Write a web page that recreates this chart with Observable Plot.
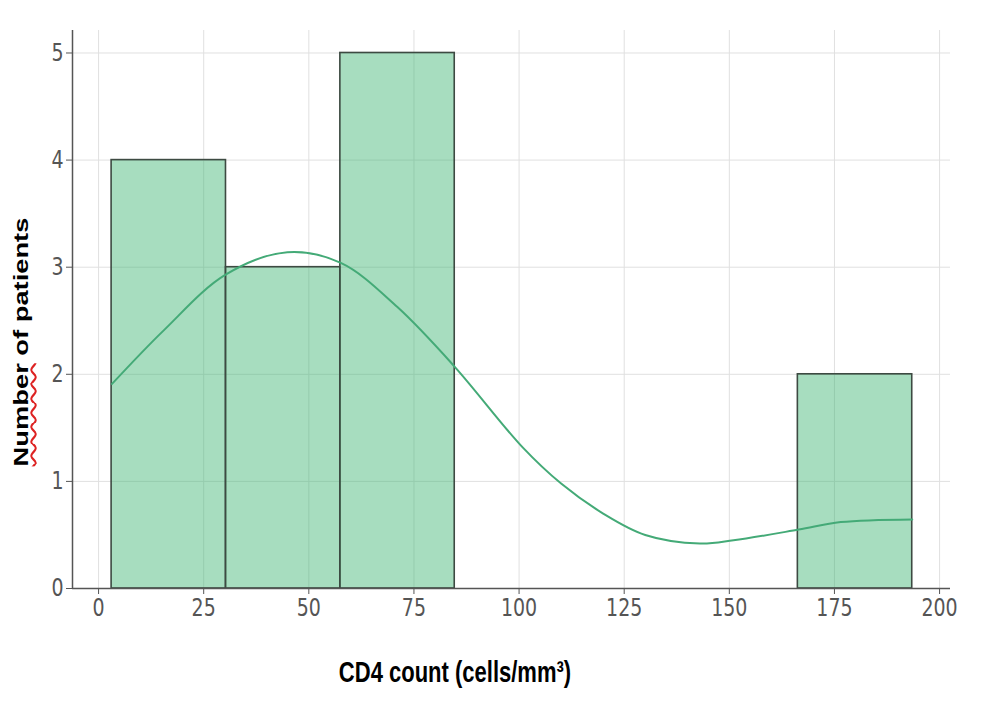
<!DOCTYPE html>
<html>
<head>
<meta charset="utf-8">
<script src="https://cdn.jsdelivr.net/npm/d3@7"></script>
<script src="https://cdn.jsdelivr.net/npm/@observablehq/plot@0.6"></script>
<style>
  html, body { margin: 0; padding: 0; background: white; }
  #wrap { position: relative; width: 1000px; height: 704px; overflow: hidden; background: white; }
  #ylab { position: absolute; left: 21px; top: 342px; white-space: nowrap;
          font: bold 21px "Liberation Sans", Arial, sans-serif; color: #000;
          transform: translate(-50%, -50%) rotate(-90deg) scale(1.3, 1); }
  #ylab .sq { text-decoration: underline wavy #d22; text-decoration-thickness: 1.5px; text-underline-offset: 2px; }
  #xlab { position: absolute; left: 455px; top: 673px; white-space: nowrap;
          font: bold 22px "Liberation Sans", Arial, sans-serif; color: #000;
          transform: translate(-50%, -50%) scale(1, 1.3); }
</style>
</head>
<body>
<div id="wrap">
  <div id="chart"></div>
  <div id="ylab"><span class="sq">Number</span> of patients</div>
  <div id="xlab">CD4 count (cells/mm³)</div>
</div>
<script>
// Histogram bins (CD4 count, cells/mm³) and patient counts
const binStart = [3.1, 30.3, 57.5, 84.7, 111.9, 139.1, 166.3];
const binEnd   = [30.3, 57.5, 84.7, 111.9, 139.1, 166.3, 193.5];
const counts   = [4, 3, 5, 0, 0, 0, 2];

// KDE curve
const kdeX = [3.2, 15.5, 30.2, 44.9, 57.6, 71, 84.7, 100.8, 110, 120, 130, 143, 151, 166.5, 176.5, 193.5];
const kdeY = [1.91, 2.41, 2.93, 3.14, 3.04, 2.63, 2.07, 1.32, 0.98, 0.70, 0.50, 0.42, 0.45, 0.55, 0.62, 0.645];

// Axis ticks and domains
const xTicks = [0, 25, 50, 75, 100, 125, 150, 175, 200];
const yTicks = [0, 1, 2, 3, 4, 5];
const xDomain = [-6.2, 202.6];
const yDomain = [0, 5.21];

const bins = binStart.map((s, i) => ({x1: s, x2: binEnd[i], y: counts[i]})).filter(d => d.y > 0);
const kde = kdeX.map((x, i) => ({x, y: kdeY[i]}));

const chart = Plot.plot({
  width: 1000,
  height: 704,
  marginLeft: 72,
  marginRight: 50,
  marginTop: 30,
  marginBottom: 116,
  style: {fontFamily: "DejaVu Sans, sans-serif", fontSize: "19px", color: "#555", background: "white"},
  x: {domain: xDomain, ticks: xTicks, tickFormat: d => String(d), label: null, tickSize: 6, tickPadding: 4},
  y: {domain: yDomain, ticks: yTicks, tickFormat: d => String(d), label: null, tickSize: 6, tickPadding: 3},
  marks: [
    Plot.ruleX(xTicks, {stroke: "#e0e0e0", strokeWidth: 1}),
    Plot.ruleY(yTicks, {stroke: "#e0e0e0", strokeWidth: 1}),
    Plot.rectY(bins, {x1: "x1", x2: "x2", y: "y", fill: "#3cb371", fillOpacity: 0.45, stroke: "#3d4a42", strokeWidth: 1.6}),
    Plot.line(kde, {x: "x", y: "y", stroke: "#44aa77", strokeWidth: 2, curve: "catmull-rom"}),
    Plot.ruleY([0], {stroke: "#555", strokeWidth: 1.5}),
    Plot.ruleX([xDomain[0]], {stroke: "#555", strokeWidth: 1.5})
  ]
});
document.getElementById("chart").appendChild(chart);

// stretch tick labels vertically like the reference
chart.querySelectorAll('g[aria-label$="tick label"] text, g.tick text').forEach(t => {
  const tr = t.getAttribute("transform") || "";
  t.setAttribute("transform", tr + " scale(1,1.3)");
});
</script>
</body>
</html>
